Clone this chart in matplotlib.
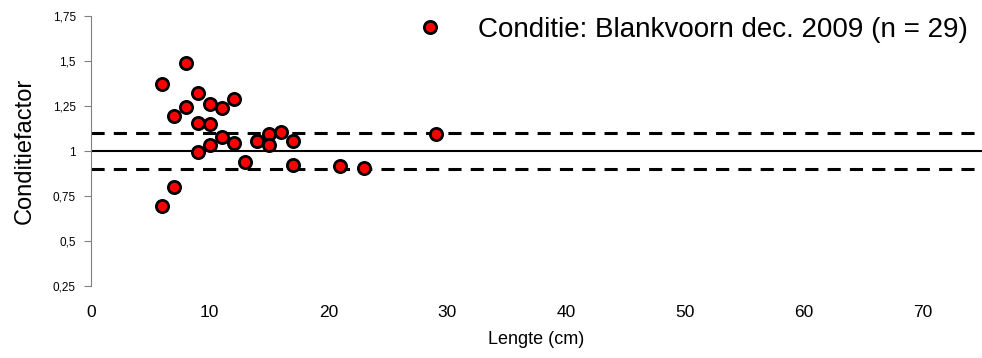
import matplotlib.pyplot as plt
from matplotlib.ticker import FuncFormatter

plt.rcParams['font.family'] = ['Liberation Sans', 'DejaVu Sans']

# Lengte (cm) en conditiefactor per vis
lengte = [6, 6, 7, 7, 8, 8, 9, 9, 9, 10, 10, 10, 11, 11, 12, 12,
          13, 14, 15, 15, 16, 17, 17, 21, 23, 29]
conditie = [1.374, 0.694, 1.194, 0.80, 1.49, 1.244, 1.32, 1.157, 0.993,
            1.263, 1.148, 1.035, 1.239, 1.076, 1.287, 1.046,
            0.938, 1.054, 1.092, 1.032, 1.108, 1.055, 0.924,
            0.917, 0.904, 1.093]
legend_label = 'Conditie: Blankvoorn dec. 2009 (n = 29)'
y_ticks = [0.25, 0.5, 0.75, 1, 1.25, 1.5, 1.75]
x_ticks = [0, 10, 20, 30, 40, 50, 60, 70]

fig = plt.figure(figsize=(9.82, 3.58), dpi=100)
ax = fig.add_axes([91 / 982, 1 - 286 / 358, 1 - 91 / 982, 270 / 358])

# referentielijnen: 1 en +/- 10%
ax.axhline(1.0, color='black', lw=1.5, zorder=1)
ax.axhline(1.1, color='black', lw=2.2, ls=(0, (4.3, 3)), zorder=1)
ax.axhline(0.9, color='black', lw=2.2, ls=(0, (4.3, 3)), zorder=1)

ax.plot(lengte, conditie, 'o', color='red', markeredgecolor='black',
        markersize=8.8, markeredgewidth=2.0, label=legend_label, zorder=3)

ax.set_xlim(0, 75)
ax.set_ylim(0.25, 1.75)
ax.set_yticks(y_ticks)
ax.set_xticks(x_ticks)
ax.yaxis.set_major_formatter(FuncFormatter(lambda v, _: f'{v:g}'.replace('.', ',')))

for s in ['top', 'right', 'bottom']:
    ax.spines[s].set_visible(False)
ax.spines['left'].set_color('#808080')
ax.tick_params(axis='y', direction='out', length=5, color='#808080', labelsize=8.5, pad=6)
ax.tick_params(axis='x', length=0, labelsize=12.5, pad=13.5)

ax.set_xlabel('Lengte (cm)', fontsize=13, labelpad=8)
ax.set_ylabel('Conditiefactor', fontsize=17, labelpad=12)

fig.legend(loc='center left', bbox_to_anchor=(402 / 982, 1 - 30 / 358),
           frameon=False, fontsize=20, borderpad=0, borderaxespad=0,
           handlelength=2.0, handletextpad=0.75)

fig.savefig('out.png', dpi=100)
